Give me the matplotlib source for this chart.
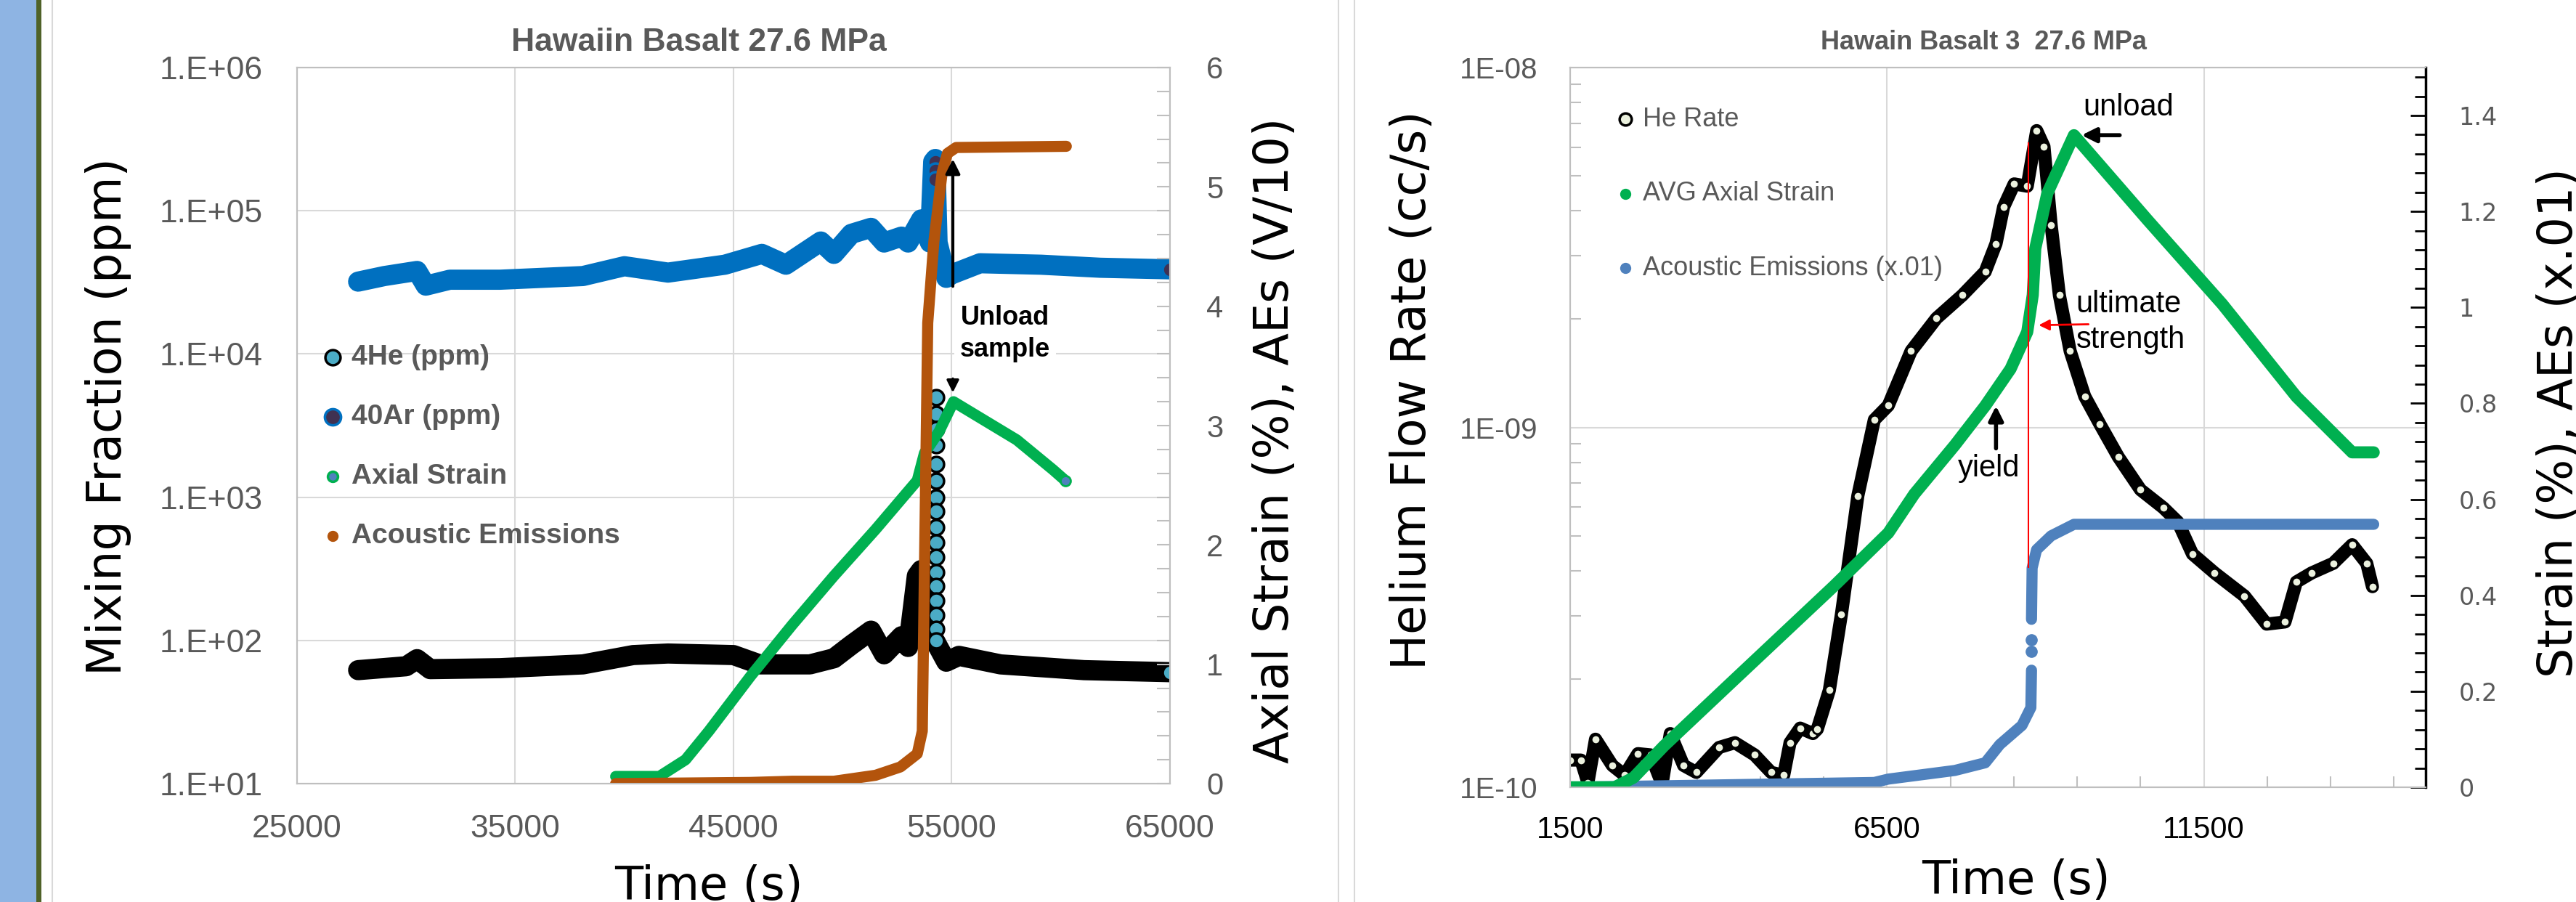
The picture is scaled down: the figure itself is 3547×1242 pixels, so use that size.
import matplotlib
matplotlib.use("Agg")
import matplotlib.pyplot as plt
import numpy as np
from matplotlib.lines import Line2D
from matplotlib.patches import Rectangle
from matplotlib.ticker import FixedLocator, MultipleLocator, NullFormatter, NullLocator, LogLocator

plt.rcParams["font.family"] = ["Liberation Sans", "DejaVu Sans"]

# ---------------- left chart: Hawaiin Basalt 27.6 MPa ----------------
left_xticks = [25000, 35000, 45000, 55000, 65000]
left_yticks = [1e1, 1e2, 1e3, 1e4, 1e5, 1e6]
left_ylabels = ["1.E+01", "1.E+02", "1.E+03", "1.E+04", "1.E+05", "1.E+06"]

# 40Ar (ppm)
ar_t = [27800, 29000, 30500, 30900, 32000, 34300, 38100, 40000, 42000, 44600,
        46300, 47400, 49000, 49600, 50400, 51300, 51900, 52700, 53000, 53600,
        54000, 54150, 54250, 54350, 54750, 55000, 56300, 59100, 61800, 65000]
ar_ppm = [3.2e4, 3.5e4, 3.8e4, 3.0e4, 3.3e4, 3.3e4, 3.5e4, 4.1e4, 3.7e4, 4.2e4,
          5.0e4, 4.2e4, 6.1e4, 5.0e4, 6.9e4, 7.6e4, 6.0e4, 6.6e4, 6.0e4, 8.7e4,
          6.0e4, 2.2e5, 2.3e5, 6.0e4, 3.4e4, 3.6e4, 4.3e4, 4.2e4, 4.0e4, 3.9e4]
ar_top_t = [54250, 54250, 54250, 65000]
ar_top_ppm = [2.2e5, 1.9e5, 1.65e5, 3.9e4]

# 4He (ppm)
he_t = [27800, 30000, 30500, 31100, 34300, 38100, 40400, 42000, 45000, 46200,
        48500, 49600, 50400, 51300, 51900, 52700, 53000, 53400, 53600, 53900,
        54300, 54750, 55330, 57240, 61060, 65000]
he_ppm = [62, 66, 74, 63, 64, 68, 79, 81, 79, 68,
          68, 75, 93, 117, 80, 107, 90, 282, 310, 102,
          95, 71, 78, 68, 62, 60]
he_col_t = [54300, 54300, 54280, 54280, 54300, 54300, 54280, 54300, 54300, 54280,
            54300, 54300, 54280, 54300, 54300, 54300, 54300, 65000]
he_col_ppm = [5000, 3800, 3000, 2300, 1700, 1300, 1000, 800, 620, 480,
              380, 300, 240, 190, 150, 120, 100, 60]

# Axial strain (%)
st_t = [39600, 41600, 42800, 43870, 45780, 47690, 49600, 51510, 53420, 53750,
        54420, 55080, 57980, 59640, 60200]
st_v = [0.06, 0.06, 0.20, 0.44, 0.90, 1.33, 1.74, 2.13, 2.54, 2.77,
        2.95, 3.20, 2.88, 2.63, 2.54]

# Acoustic emissions (V/10)
ae_t = [39600, 45780, 47690, 49600, 51510, 52650, 53420, 53650, 53900, 54180,
        54560, 54800, 55200, 60250]
ae_v = [0.00, 0.01, 0.02, 0.02, 0.07, 0.14, 0.25, 0.44, 3.86, 4.54,
        5.12, 5.28, 5.33, 5.34]

# ---------------- right chart: Hawain Basalt 3 27.6 MPa ----------------
right_xticks = [1500, 6500, 11500]
right_yticks = [1e-10, 1e-9, 1e-8]
right_ylabels = ["1E-10", "1E-09", "1E-08"]
right_y2ticks = [0, 0.2, 0.4, 0.6, 0.8, 1.0, 1.2, 1.4]
right_y2labels = ["0", "0.2", "0.4", "0.6", "0.8", "1", "1.2", "1.4"]

# He rate (cc/s)
hr_t = [1500, 1670, 1780, 1900, 2165, 2360, 2570, 2770, 2950, 3080,
        3290, 3490, 3850, 4100, 4410, 4670, 4870, 4970, 5130, 5330,
        5400, 5590, 5780, 6040, 6300, 6520, 6880, 7280, 7690, 8050,
        8220, 8340, 8507, 8713, 8862, 8977, 9090, 9220, 9390, 9620,
        9860, 10150, 10500, 10860, 11090, 11320, 11670, 12140, 12490, 12780,
        12960, 13200, 13540, 13840, 14070, 14160]
hr_v = [1.19e-10, 1.19e-10, 1.03e-10, 1.36e-10, 1.15e-10, 1.08e-10, 1.24e-10, 1.23e-10, 1.02e-10, 1.41e-10,
        1.15e-10, 1.10e-10, 1.29e-10, 1.33e-10, 1.23e-10, 1.10e-10, 1.08e-10, 1.33e-10, 1.46e-10, 1.41e-10,
        1.45e-10, 1.86e-10, 3.02e-10, 6.46e-10, 1.05e-9, 1.15e-9, 1.63e-9, 2.01e-9, 2.33e-9, 2.71e-9,
        3.24e-9, 4.10e-9, 4.75e-9, 4.68e-9, 6.68e-9, 6.03e-9, 3.65e-9, 2.33e-9, 1.63e-9, 1.22e-9,
        1.02e-9, 8.28e-10, 6.71e-10, 5.98e-10, 5.46e-10, 4.45e-10, 3.94e-10, 3.40e-10, 2.84e-10, 2.88e-10,
        3.72e-10, 3.94e-10, 4.19e-10, 4.72e-10, 4.19e-10, 3.61e-10]

# AVG axial strain (%)
rs_t = [1500, 2200, 2500, 2980, 4000, 5660, 6520, 6930, 7570, 8050,
        8450, 8713, 8800, 8840, 9030, 9450, 10620, 11790, 12960, 13840, 14180]
rs_v = [0.0, 0.0, 0.02, 0.086, 0.213, 0.419, 0.53, 0.611, 0.713, 0.795,
        0.872, 0.949, 1.026, 1.123, 1.238, 1.359, 1.181, 1.007, 0.814, 0.698, 0.698]

# Acoustic emissions (x.01)
rae_t = [1500, 6300, 6520, 7570, 8050, 8280, 8630, 8770, 8780]
rae_v = [0.0, 0.01, 0.017, 0.035, 0.051, 0.089, 0.129, 0.166, 0.244]
rae_gap_t = [8780, 8780]
rae_gap_v = [0.283, 0.307]
rae_hi_t = [8780, 8790, 8860, 9090, 9450, 14180]
rae_hi_v = [0.35, 0.457, 0.495, 0.524, 0.548, 0.548]
ult_t = 8736

GRAY = "#595959"
GRID = "#D9D9D9"
SPINE = "#BFBFBF"
W, H = 3548, 1242

fig = plt.figure(figsize=(W / 100, H / 100), dpi=100)

# page decorations
fig.add_artist(Rectangle((0, 0), 50 / W, 1, transform=fig.transFigure, color="#8EB4E3", lw=0))
fig.add_artist(Rectangle((50 / W, 0), 7 / W, 1, transform=fig.transFigure, color="#4F6228", lw=0))
for xp in (72, 1843, 1865):
    fig.add_artist(Line2D([xp / W, xp / W], [0, 1], transform=fig.transFigure, color=GRID, lw=1.5))

# ================= left chart =================
ax = fig.add_axes([409 / W, 1 - 1079 / H, 1202 / W, 986 / H])
ax.set_yscale("log")
ax.set_xlim(25000, 65000)
ax.set_ylim(10, 1e6)
ax.xaxis.set_major_locator(FixedLocator(left_xticks))
ax.set_xticklabels([str(v) for v in left_xticks])
ax.yaxis.set_major_locator(FixedLocator(left_yticks))
ax.yaxis.set_minor_locator(NullLocator())
ax.set_yticklabels(left_ylabels)
ax.grid(True, color=GRID, lw=1.5)
ax.set_axisbelow(True)
ax.tick_params(axis="both", length=0, labelsize=32, labelcolor=GRAY)
ax.tick_params(axis="y", pad=34)
ax.tick_params(axis="x", pad=30)
for s in ax.spines.values():
    s.set_color(SPINE)
    s.set_linewidth(1.5)

ax.plot(ar_t, ar_ppm, color="#0070C0", lw=20, solid_capstyle="round", solid_joinstyle="round")
ax.plot(he_t, he_ppm, color="black", lw=20, solid_capstyle="round", solid_joinstyle="round")
ax.plot(ar_top_t, ar_top_ppm, ls="none", marker="o", ms=15, mfc="#403152", mec="#0070C0", mew=2.5)
ax.plot(he_col_t, he_col_ppm, ls="none", marker="o", ms=15, mfc="#4BACC6", mec="black", mew=2.5)

ax2 = ax.twinx()
ax2.set_ylim(0, 6)
ax2.yaxis.set_major_locator(FixedLocator(range(7)))
ax2.yaxis.set_minor_locator(MultipleLocator(0.2))
ax2.tick_params(axis="y", which="both", direction="in", length=13, width=1.5, color=SPINE,
                labelsize=30, labelcolor=GRAY, pad=36)
for s in ax2.spines.values():
    s.set_color(SPINE)
    s.set_linewidth(1.5)

ax2.plot(st_t, st_v, color="#00B050", lw=11, solid_capstyle="round", solid_joinstyle="round")
ax2.plot(st_t[-1:], st_v[-1:], ls="none", marker="o", ms=10, mfc="#4F81BD", mec="#00B050", mew=2)
ax2.plot(ae_t, ae_v, color="#B3540C", lw=11, solid_capstyle="round", solid_joinstyle="round")

# annotations
ax2.annotate("", xy=(55050, 5.25), xytext=(55050, 4.15),
             arrowprops=dict(arrowstyle="-|>", color="black", lw=3, mutation_scale=30))
ax2.annotate("", xy=(55050, 3.26), xytext=(55050, 3.41),
             arrowprops=dict(arrowstyle="-|>", color="black", lw=2.5, mutation_scale=25))
ax2.text(57445, 3.77, "Unload\nsample", ha="center", va="center", fontsize=26,
         fontweight="bold", color="black", linespacing=1.35,
         bbox=dict(facecolor="white", edgecolor="none", pad=6))

# legend
leg_left = [("4He (ppm)", dict(ms=15, mfc="#4BACC6", mec="black", mew=2.5)),
            ("40Ar (ppm)", dict(ms=16, mfc="#403152", mec="#0070C0", mew=2.5)),
            ("Axial Strain", dict(ms=10, mfc="#4F81BD", mec="#00B050", mew=2.5)),
            ("Acoustic Emissions", dict(ms=10, mfc="#B3540C", mec="#B3540C", mew=1))]
for i, (lab, st) in enumerate(leg_left):
    yy = 0.595 - i * 0.0832
    ax2.plot([0.041], [yy], ls="none", marker="o", transform=ax2.transAxes, clip_on=False, **st)
    ax2.text(0.0624, yy, lab, transform=ax2.transAxes, ha="left", va="center",
             fontsize=28, fontweight="bold", color=GRAY)

# ================= right chart =================
rx = fig.add_axes([2162 / W, 1 - 1084 / H, 1178 / W, 991 / H])
rx.set_yscale("log")
rx.set_xlim(1500, 15000)
rx.set_ylim(1e-10, 1e-8)
rx.xaxis.set_major_locator(FixedLocator(right_xticks))
rx.set_xticklabels([str(v) for v in right_xticks])
rx.xaxis.set_minor_locator(FixedLocator(np.arange(2500, 15000, 1000)))
rx.yaxis.set_major_locator(FixedLocator(right_yticks))
rx.set_yticklabels(right_ylabels)
rx.yaxis.set_minor_locator(LogLocator(base=10, subs=np.arange(2, 10)))
rx.yaxis.set_minor_formatter(NullFormatter())
rx.grid(True, which="major", color=GRID, lw=1.5)
rx.set_axisbelow(True)
rx.tick_params(axis="both", which="major", length=0)
rx.tick_params(axis="both", which="minor", direction="in", length=11, width=1.5, color=SPINE)
rx.tick_params(axis="y", labelsize=29, labelcolor=GRAY, pad=32)
rx.tick_params(axis="x", labelsize=30, labelcolor="black", pad=28)
for s in rx.spines.values():
    s.set_color(SPINE)
    s.set_linewidth(1.5)

rx.plot(hr_t, hr_v, color="black", lw=13, solid_capstyle="round", solid_joinstyle="round")
rx.plot(hr_t, hr_v, ls="none", marker="o", ms=9, mfc="#EBF1DE", mec="black", mew=2)

rx2 = rx.twinx()
rx2.set_ylim(0, 1.5)
rx2.yaxis.set_major_locator(FixedLocator(right_y2ticks))
rx2.set_yticklabels(right_y2labels)
rx2.yaxis.set_minor_locator(MultipleLocator(0.04))
rx2.tick_params(axis="y", which="major", direction="in", length=15, width=2, color="black",
                labelsize=24, labelcolor=GRAY, pad=33)
rx2.tick_params(axis="y", which="minor", direction="in", length=11, width=2, color="black")
for lbl in rx2.get_yticklabels():
    lbl.set_fontfamily("DejaVu Sans")
for name, s in rx2.spines.items():
    s.set_color("black" if name == "right" else SPINE)
    s.set_linewidth(2.5 if name == "right" else 1.5)

rx2.plot(rae_t, rae_v, color="#4F81BD", lw=11, solid_capstyle="round", solid_joinstyle="round")
rx2.plot(rae_gap_t, rae_gap_v, ls="none", marker="o", ms=11, color="#4F81BD")
rx2.plot(rae_hi_t, rae_hi_v, color="#4F81BD", lw=11, solid_capstyle="round", solid_joinstyle="round")
rx2.plot(rs_t, rs_v, color="#00B050", lw=12, solid_capstyle="round", solid_joinstyle="round")
rx2.vlines(ult_t, 0.457, 1.344, color="red", lw=1.5)

# annotations
rx2.text(10307, 1.417, "unload", ha="center", va="center", fontsize=30, color="black")
rx2.annotate("", xy=(9539, 1.359), xytext=(10204, 1.359),
             arrowprops=dict(arrowstyle="-|>", color="black", lw=4, mutation_scale=30))
rx2.text(9482, 0.969, "ultimate\nstrength", ha="left", va="center", fontsize=30,
         color="black", linespacing=1.3)
rx2.annotate("", xy=(8862, 0.963), xytext=(9711, 0.965),
             arrowprops=dict(arrowstyle="-|>", color="red", lw=2, mutation_scale=22))
rx2.text(8105, 0.664, "yield", ha="center", va="center", fontsize=30, color="black")
rx2.annotate("", xy=(8220, 0.799), xytext=(8220, 0.702),
             arrowprops=dict(arrowstyle="-|>", color="black", lw=4, mutation_scale=30))

# legend
leg_right = [("He Rate", dict(ms=12, mfc="#EBF1DE", mec="black", mew=2.5)),
             ("AVG Axial Strain", dict(ms=10, mfc="#00B050", mec="#00B050", mew=1)),
             ("Acoustic Emissions (x.01)", dict(ms=10, mfc="#4F81BD", mec="#4F81BD", mew=1))]
for i, (lab, st) in enumerate(leg_right):
    yy = 0.928 - i * 0.1035
    rx2.plot([0.0645], [yy], ls="none", marker="o", transform=rx2.transAxes, clip_on=False, **st)
    rx2.text(0.0849, yy, lab, transform=rx2.transAxes, ha="left", va="center",
             fontsize=26, color=GRAY)

# titles and axis labels
fig.text(962 / W, 1 - 58 / H, "Hawaiin Basalt 27.6 MPa", ha="center", va="center",
         fontsize=32, fontweight="bold", color=GRAY)
fig.text(2731 / W, 1 - 58 / H, "Hawain Basalt 3  27.6 MPa", ha="center", va="center",
         fontsize=26, fontweight="bold", color=GRAY)
lab_kw = dict(fontsize=47, color="black", family="DejaVu Sans", ha="center", va="center")
fig.text(149 / W, 1 - 574 / H, "Mixing Fraction (ppm)", rotation=90, **lab_kw)
fig.text(1756 / W, 1 - 606 / H, "Axial Strain (%), AEs (V/10)", rotation=90, **lab_kw)
fig.text(1945 / W, 1 - 537 / H, "Helium Flow Rate (cc/s)", rotation=90, **lab_kw)
fig.text(3524 / W, 1 - 582 / H, "Strain (%), AEs (x.01)", rotation=90, **lab_kw)
time_kw = dict(fontsize=46, color="black", family="DejaVu Sans", ha="center", va="top")
fig.text(976 / W, 1 - 1190 / H, "Time (s)", **time_kw)
fig.text(2776 / W, 1 - 1182 / H, "Time (s)", **time_kw)

fig.savefig("out.png", dpi=100)
